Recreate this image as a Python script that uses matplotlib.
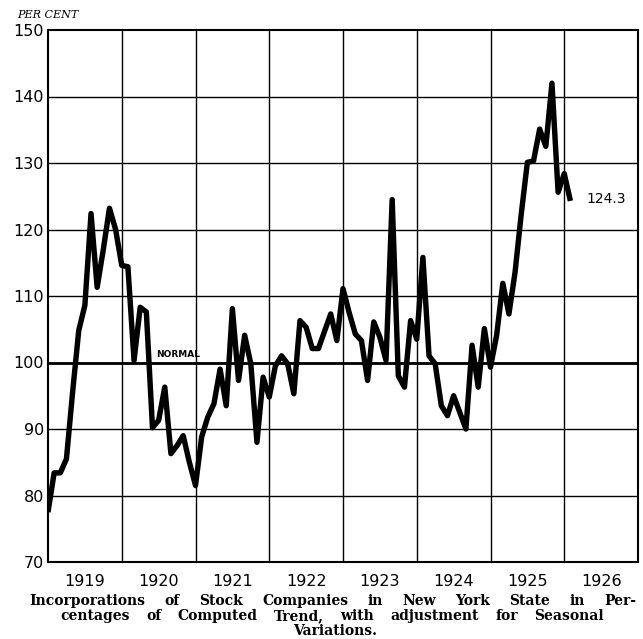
import matplotlib
matplotlib.use("Agg")
import matplotlib.pyplot as plt
import numpy as np

# ---- data (monthly, Jan 1919 .. Feb 1926) ----
start_year = 1919
values = [
    77.5, 83.4, 83.4, 85.5, 95.5, 104.8, 108.6, 122.4, 111.3, 117.0, 123.2, 120.0,   # 1919
    114.6, 114.4, 100.3, 108.3, 107.6, 90.2, 91.3, 96.3, 86.3, 87.5, 89.0, 85.0,     # 1920
    81.5, 88.8, 91.8, 93.8, 99.0, 93.5, 108.1, 97.3, 104.1, 99.8, 88.0, 97.8,        # 1921
    94.8, 99.5, 101.0, 99.8, 95.3, 106.3, 105.3, 102.1, 102.1, 104.7, 107.3, 103.3,  # 1922
    111.1, 107.5, 104.3, 103.3, 97.3, 106.1, 103.8, 100.3, 124.5, 98.0, 96.3, 106.3, # 1923
    103.5, 115.8, 101.0, 99.8, 93.5, 92.0, 95.0, 92.5, 90.0, 102.6, 96.3, 105.1,     # 1924
    99.3, 104.1, 111.9, 107.3, 113.6, 122.3, 130.1, 130.3, 135.1, 132.5, 142.0, 125.6, # 1925
    128.4, 124.3,                                                                     # 1926
]
year_labels = ["1919", "1920", "1921", "1922", "1923", "1924", "1925", "1926"]
y_ticks = [70, 80, 90, 100, 110, 120, 130, 140, 150]
last_label = "124.3"
normal_label = "NORMAL"
unit_label = "PER CENT"
caption_lines = [
    "Incorporations of Stock Companies in New York State in Per-",
    "centages of Computed Trend, with adjustment for Seasonal",
    "Variations.",
]

W, H = 643, 639
fig = plt.figure(figsize=(W / 100, H / 100), dpi=100)
ax = fig.add_axes([48 / W, 1 - 562 / H, (638 - 48) / W, (562 - 30) / H])

x = start_year + np.arange(len(values)) / 12.0
n_years = len(year_labels)
ax.set_xlim(start_year, start_year + n_years)
ax.set_ylim(y_ticks[0], y_ticks[-1])

# grid
for yv in y_ticks[1:-1]:
    ax.axhline(yv, color="black", lw=1.0, zorder=1)
for k in range(1, n_years):
    ax.axvline(start_year + k, color="black", lw=1.0, zorder=1)
ax.axhline(100, color="black", lw=2.0, zorder=2)

ax.plot(x, values, color="black", lw=3.9, solid_joinstyle="round",
        solid_capstyle="butt", zorder=3)

for s in ax.spines.values():
    s.set_linewidth(1.5)
    s.set_color("black")

ax.set_yticks(y_ticks)
ax.set_yticklabels([str(v) for v in y_ticks], fontsize=11.5, family="DejaVu Sans")
ax.set_xticks([start_year + k + 0.5 for k in range(n_years)])
ax.set_xticklabels(year_labels, fontsize=11.5, family="DejaVu Sans")
ax.tick_params(axis="both", length=0)
ax.tick_params(axis="y", pad=3)
ax.tick_params(axis="x", pad=9)

ax.text(start_year + 1.46, 100.6, normal_label, fontsize=6.5, fontweight="bold",
        ha="left", va="bottom", zorder=4)
ax.text(x[-1] + 0.22, values[-1] + 0.3, last_label, fontsize=10, ha="left",
        va="center", zorder=4)
fig.text(17 / W, 1 - 15 / H, unit_label, fontsize=8, style="italic",
         ha="left", va="center", family="DejaVu Serif")

# caption (justified lines)
renderer = fig.canvas.get_renderer()
cap_kw = dict(fontsize=10, fontweight="bold", family="DejaVu Serif", va="baseline")
spans = [(29, 636, 605), (60, 604, 620), (None, None, 635)]
for line, (x0, x1, yb) in zip(caption_lines, spans):
    if x0 is None:
        fig.text(335 / W, 1 - yb / H, line, ha="center", **cap_kw)
        continue
    words = line.split(" ")
    texts = [fig.text(0, 1 - yb / H, w, ha="left", **cap_kw) for w in words]
    widths = [t.get_window_extent(renderer).width for t in texts]
    gap = (x1 - x0 - sum(widths)) / (len(words) - 1)
    cx = x0
    for t, w in zip(texts, widths):
        t.set_x(cx / W)
        cx += w + gap

fig.savefig("out.png", dpi=100, facecolor="white")
